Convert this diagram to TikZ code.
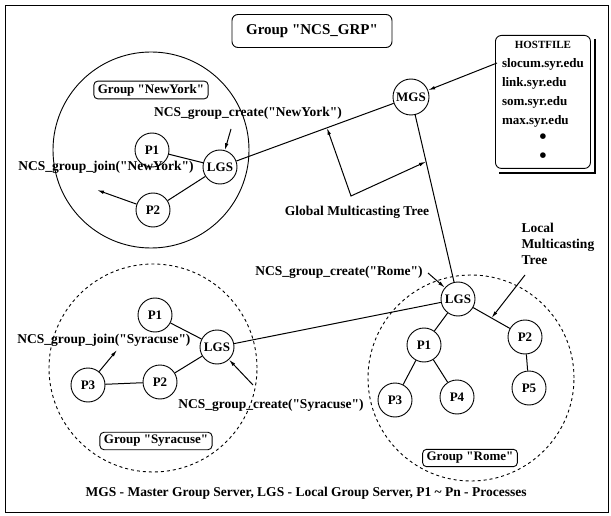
\documentclass[tikz,border=0pt]{standalone}
\usepackage{fontspec}
\setmainfont{Liberation Serif}[Ligatures=TeXOff]
\usetikzlibrary{arrows.meta,positioning,calc}

\begin{document}
\begin{tikzpicture}[x=1pt,y=-1pt,>={Latex[length=7pt,width=3.5pt]},line width=1pt,
 proc/.style={draw,circle,minimum size=34pt,inner sep=0pt,line width=0.9pt,font=\bfseries\fontsize{13}{13}\selectfont},
 grp/.style={draw,rounded corners=4pt,inner xsep=4pt,inner ysep=3pt,line width=0.9pt,font=\bfseries\fontsize{13}{13}\selectfont},
 lbl/.style={inner sep=1pt,font=\bfseries\fontsize{13.5}{13.5}\selectfont},
 zone/.style={draw,circle,inner sep=0pt,line width=0.9pt}]
\useasboundingbox (0,0) rectangle (611,516);
\node[draw,minimum width=603pt,minimum height=507pt,anchor=north west,line width=1pt] (frame) at (5,5) {};
\node[grp,minimum width=160pt,minimum height=33pt,rounded corners=6pt,font=\bfseries\fontsize{15}{15}\selectfont] (title) at (312,31) {Group "NCS\_GRP"};
% group NewYork
\node[zone,minimum size=196pt] (nyzone) at (151,150) {};
\node[grp] (nygrp) at (151,90) {Group "NewYork"};
\node[proc] (nyP1) at (152,150) {P1};
\node[proc] (nyLGS) at (220,167) {LGS};
\node[proc] (nyP2) at (153,210) {P2};
\draw (nyP1)--(nyLGS);\draw (nyP2)--(nyLGS);
\node[lbl] (nycreate) at (248,113) {NCS\_group\_create("NewYork")};
\node[lbl] (nyjoin) at (106,167) {NCS\_group\_join("NewYork")};
\coordinate (nyc) at (231,129);\coordinate (nyj) at (97,190);
\draw[->] (nyc)--(nyLGS);\draw[->] (nyP2)--(nyj);
% master server and host file
\node[proc,minimum size=36pt] (mgs) at (411,97) {MGS};
\node[draw,rounded corners=6pt,minimum width=95pt,minimum height=133pt,anchor=north west,inner sep=0pt,line width=0.9pt,font=\bfseries\fontsize{13}{19}\selectfont] (hostfile) at (495,35) {%
 \begin{tabular}{@{}l@{}}\multicolumn{1}{c}{\fontsize{11}{19}\selectfont HOSTFILE}\\slocum.syr.edu\\link.syr.edu\\som.syr.edu\\max.syr.edu\\\multicolumn{1}{c}{\huge\textbullet}\\\multicolumn{1}{c}{\huge\textbullet}\end{tabular}};
\draw[line width=2.5pt] ($(hostfile.north east)+(4,4)$)--($(hostfile.south east)+(4,4)$)--($(hostfile.south west)+(4,4)$);
\coordinate (hf1) at (497,63);
\draw[->] (hf1)--(mgs);
% group Rome
\node[zone,dashed,minimum size=206pt] (romezone) at (471,378) {};
\node[grp] (romegrp) at (470,458) {Group "Rome"};
\node[proc] (romeLGS) at (458,299) {LGS};
\node[proc] (romeP1) at (424,345) {P1};
\node[proc] (romeP2) at (525,337) {P2};
\node[proc] (romeP3) at (395,400) {P3};
\node[proc] (romeP4) at (457,397) {P4};
\node[proc] (romeP5) at (529,388) {P5};
\draw (romeLGS)--(romeP1);\draw (romeLGS)--(romeP2);\draw (romeP1)--(romeP3);\draw (romeP1)--(romeP4);\draw (romeP2)--(romeP5);
\node[lbl] (romecreate) at (339,272) {NCS\_group\_create("Rome")};
\coordinate (romec) at (428,273);
\draw[->] (romec)--(romeLGS);
\node[lbl,align=left,anchor=north west,font=\bfseries\fontsize{13.5}{16}\selectfont] (lmt) at (520,222) {Local\\Multicasting\\Tree};
\coordinate (lmtfoot) at (525,275);\coordinate (tree) at ($(romeLGS)!0.5!(romeP2)$);
\draw[->] (lmtfoot)--(tree);
% group Syracuse
\node[zone,dashed,minimum size=208pt] (syrzone) at (153,368) {};
\node[grp] (syrgrp) at (156,441) {Group "Syracuse"};
\node[proc] (syrP1) at (155,315) {P1};
\node[proc] (syrLGS) at (217,347) {LGS};
\node[proc] (syrP2) at (160,382) {P2};
\node[proc] (syrP3) at (88,385) {P3};
\draw (syrP1)--(syrLGS);\draw (syrP2)--(syrLGS);\draw (syrP3)--(syrP2);
\node[lbl] (syrjoin) at (104,340) {NCS\_group\_join("Syracuse")};
\node[lbl] (syrcreate) at (271,405) {NCS\_group\_create("Syracuse")};
\coordinate (syrj) at (117,350);\coordinate (syrc) at (253,385);
\draw[->] (syrP3)--(syrj);\draw[->] (syrc)--(syrLGS);
% global tree
\draw (nyLGS)--(mgs);\draw (mgs)--(romeLGS);\draw (syrLGS)--(romeLGS);
\coordinate (gmtA) at ($(nyLGS)!0.56!(mgs)$);\coordinate (gmtB) at ($(mgs)!0.32!(romeLGS)$);\coordinate (gmtC) at (351,196);
\draw[<->] (gmtA)--(gmtC)--(gmtB);
\node[lbl] (gmt) at (357,212) {Global Multicasting Tree};
\node[lbl] (caption) at (306,493) {MGS - Master Group Server, LGS - Local Group Server, P1 \textasciitilde{} Pn - Processes};
\end{tikzpicture}
\end{document}
